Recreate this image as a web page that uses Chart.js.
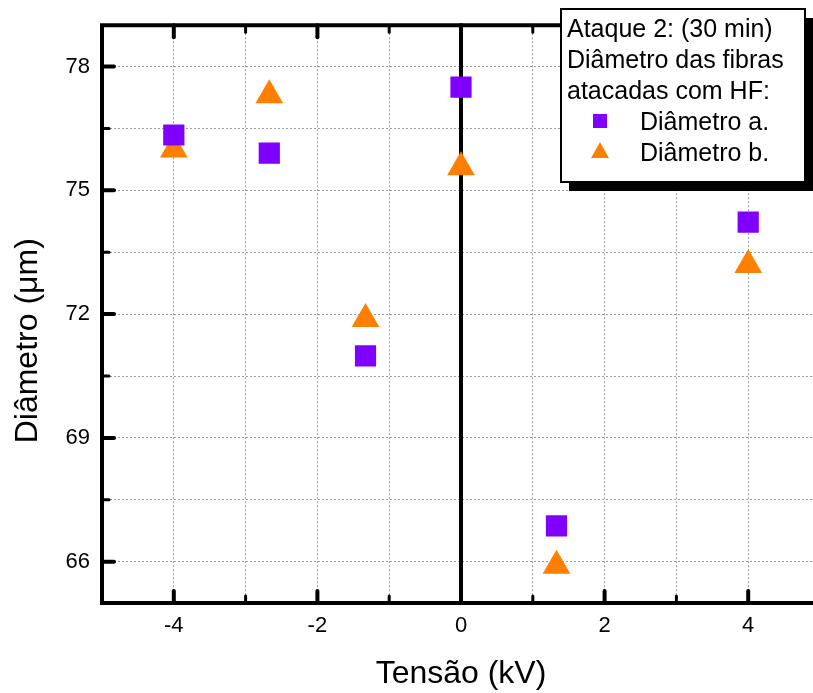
<!DOCTYPE html>
<html>
<head>
<meta charset="utf-8">
<script src="https://cdn.jsdelivr.net/npm/chart.js@4.4.1/dist/chart.umd.min.js"></script>
<style>
  html, body { margin: 0; padding: 0; overflow: hidden; background: #fff; }
  canvas { display: block; }
</style>
</head>
<body>
<canvas id="chart" width="830" height="693"></canvas>
<script>
// data
const tensao  = [-4, -2.67, -1.33, 0, 1.33, 4];
const diamA   = [76.34, 75.9, 70.99, 77.5, 66.87, 74.23];
const diamB   = [75.99, 77.3, 71.88, 75.56, 65.9, 73.19];
const xGrid   = [-4, -3, -2, -1, 0, 1, 2, 3, 4];
const xLabels = [-4, -2, 0, 2, 4];
const yGrid   = [66, 67.5, 69, 70.5, 72, 73.5, 75, 76.5, 78];
const yLabels = [66, 69, 72, 75, 78];
const legendTitle = ["Ataque 2: (30 min)", "Diâmetro das fibras", "atacadas com HF:"];
const seriesNames = ["Diâmetro a.", "Diâmetro b."];

const FONT = "'Liberation Sans', Arial, sans-serif";
const PURPLE = "#8000FF";
const ORANGE = "#FF8000";

// frame (right side is cut off in the picture), inward ticks, thick line at x = 0
const framePlugin = {
  id: "frame",
  beforeDatasetsDraw(chart) {
    const { ctx, chartArea: a, scales: { x, y } } = chart;
    const seg = (x1, y1, x2, y2) => { ctx.beginPath(); ctx.moveTo(x1, y1); ctx.lineTo(x2, y2); ctx.stroke(); };
    ctx.save();
    ctx.strokeStyle = "#000";
    ctx.lineCap = "round";

    ctx.lineWidth = 4;
    const x0 = x.getPixelForValue(0);
    seg(x0, a.top, x0, a.bottom);

    xGrid.forEach(v => {
      const px = x.getPixelForValue(v);
      const major = xLabels.includes(v);
      const len = major ? 12 : 7;
      ctx.lineWidth = major ? 4 : 3;
      seg(px, a.bottom, px, a.bottom - len);
      seg(px, a.top, px, a.top + len);
    });
    yGrid.forEach(v => {
      const py = y.getPixelForValue(v);
      const major = yLabels.includes(v);
      ctx.lineWidth = major ? 4 : 3;
      seg(a.left, py, a.left + (major ? 12 : 7), py);
    });

    ctx.lineCap = "square";
    ctx.lineWidth = 4;
    ctx.beginPath();
    ctx.moveTo(a.right + 10, a.top);
    ctx.lineTo(a.left, a.top);
    ctx.lineTo(a.left, a.bottom);
    ctx.lineTo(a.right + 10, a.bottom);
    ctx.stroke();
    ctx.restore();
  }
};

// boxed legend with a drop shadow, top right
const legendPlugin = {
  id: "boxLegend",
  afterDraw(chart) {
    const ctx = chart.ctx;
    const bx = 561, by = 9, bw = 244, bh = 173;
    ctx.save();
    ctx.fillStyle = "#000";
    ctx.fillRect(bx + 8, by + 9, bw, bh);
    ctx.fillStyle = "#fff";
    ctx.fillRect(bx, by, bw, bh);
    ctx.strokeStyle = "#000";
    ctx.lineWidth = 2;
    ctx.strokeRect(bx, by, bw, bh);

    ctx.fillStyle = "#000";
    ctx.font = "25px " + FONT;
    ctx.textBaseline = "alphabetic";
    ctx.textAlign = "left";
    legendTitle.forEach((t, i) => ctx.fillText(t, 567, 37 + i * 31));

    const ds = chart.data.datasets;
    seriesNames.forEach((name, i) => {
      const yb = 130 + i * 31;
      ctx.fillStyle = "#000";
      ctx.fillText(name, 640, yb);
      ctx.fillStyle = ds[i].backgroundColor;
      const cy = yb - 9;
      ctx.beginPath();
      if (ds[i].pointStyle === "rect") {
        ctx.rect(593, cy - 7, 14, 14);
      } else {
        ctx.moveTo(600, cy - 10);
        ctx.lineTo(609, cy + 6);
        ctx.lineTo(591, cy + 6);
        ctx.closePath();
      }
      ctx.fill();
    });
    ctx.restore();
  }
};

new Chart(document.getElementById("chart").getContext("2d"), {
  type: "scatter",
  data: {
    datasets: [
      {
        label: seriesNames[0],
        data: tensao.map((t, i) => ({ x: t, y: diamA[i] })),
        pointStyle: "rect",
        pointRadius: 15,
        pointBorderWidth: 0,
        backgroundColor: PURPLE,
        borderColor: PURPLE
      },
      {
        label: seriesNames[1],
        data: tensao.map((t, i) => ({ x: t, y: diamB[i] })),
        pointStyle: "triangle",
        pointRadius: 16,
        pointBorderWidth: 0,
        backgroundColor: ORANGE,
        borderColor: ORANGE
      }
    ]
  },
  options: {
    responsive: false,
    animation: false,
    events: [],
    layout: { autoPadding: false, padding: { top: 25, right: 10, bottom: 0, left: 0 } },
    plugins: { legend: { display: false }, tooltip: { enabled: false } },
    scales: {
      x: {
        type: "linear",
        min: -5, max: 5,
        afterBuildTicks: s => { s.ticks = xGrid.map(v => ({ value: v })); },
        afterFit: s => { s.height = 90; },
        grid: { color: "#9a9a9a", lineWidth: 1, drawTicks: false },
        border: { display: false, dash: [2, 2] },
        ticks: {
          autoSkip: false, maxRotation: 0, padding: 10, color: "#000",
          font: { family: FONT, size: 22 },
          callback: v => xLabels.includes(v) ? String(v) : ""
        },
        title: {
          display: true, text: "Tensão (kV)", color: "#000",
          font: { family: FONT, size: 32 }, padding: { top: 1, bottom: 0 }
        }
      },
      y: {
        min: 65, max: 79,
        afterBuildTicks: s => { s.ticks = yGrid.map(v => ({ value: v })); },
        afterFit: s => { s.width = 102; },
        grid: { color: "#9a9a9a", lineWidth: 1, drawTicks: false },
        border: { display: false, dash: [2, 2] },
        ticks: {
          autoSkip: false, padding: 12, color: "#000",
          font: { family: FONT, size: 22 },
          callback: v => yLabels.includes(v) ? String(v) : ""
        },
        title: {
          display: true, text: "Diâmetro (μm)      ", color: "#000",
          font: { family: FONT, size: 32 }, padding: { top: 9, bottom: 0 }
        }
      }
    }
  },
  plugins: [framePlugin, legendPlugin]
});
</script>
</body>
</html>
